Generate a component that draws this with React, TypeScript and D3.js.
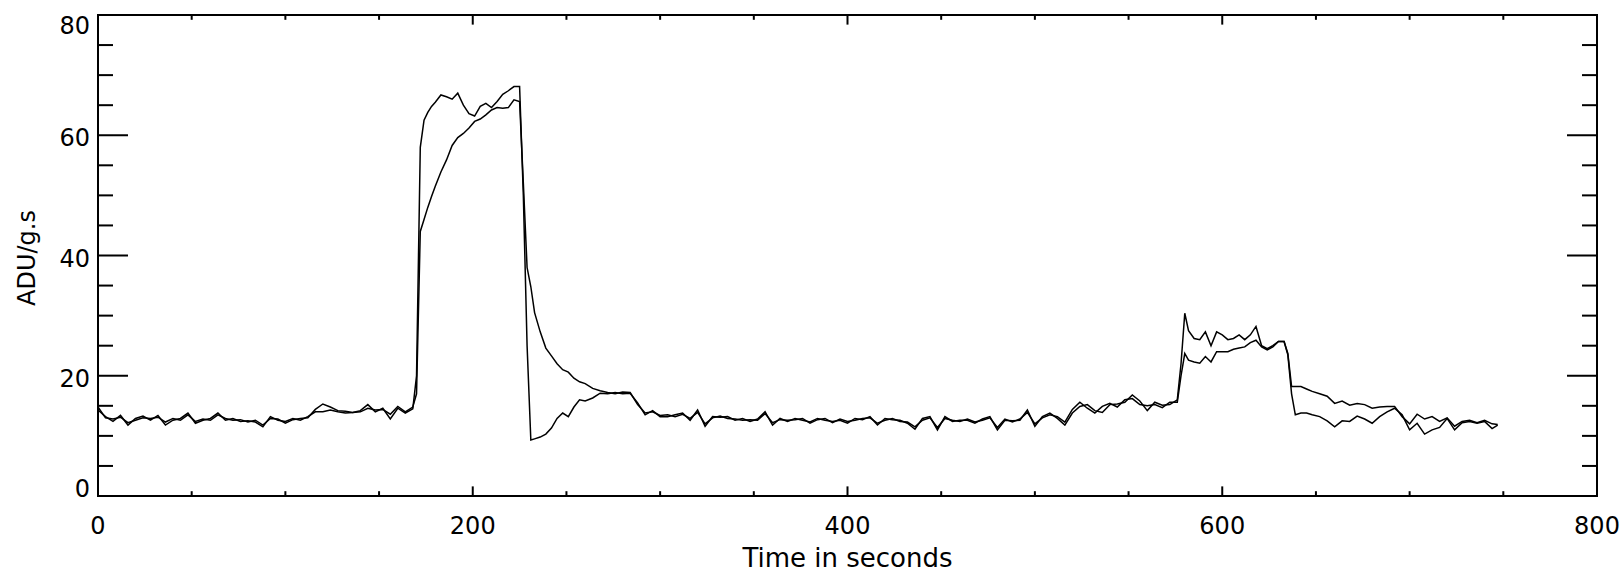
import React, { useEffect, useRef } from "react";
import * as d3 from "d3";

// time stamps (s), shared by both traces
const seconds = [
  0, 4, 8, 12, 16, 20, 24, 28, 32, 36, 40, 44, 48, 52, 56, 60, 64, 68, 72, 76, 80, 84,
  88, 92, 96, 100, 104, 108, 112, 116, 120, 124, 128, 132, 136, 140, 144, 148, 152, 156,
  160, 164, 168,
  170, 172, 174, 176, 178, 180, 183, 186, 189, 192, 195, 198, 201, 204, 207, 210, 213,
  216, 219, 222, 225,
  227, 229, 231, 233, 236, 239, 242, 245, 248, 251, 254, 257, 260, 264, 268, 272, 276,
  280, 284, 288, 292, 296, 300,
  304, 308, 312, 316, 320, 324, 328, 332, 336, 340, 344, 348, 352, 356, 360, 364, 368,
  372, 376, 380, 384, 388, 392, 396, 400, 404, 408, 412, 416, 420, 424, 428, 432, 436,
  440, 444, 448, 452, 456, 460, 464, 468, 472, 476, 480, 484, 488, 492, 496, 500, 504,
  508, 512, 516, 520, 524, 528, 532, 536, 540, 544, 548, 552, 556, 560, 564, 568, 572,
  576, 578, 580, 582, 585, 588, 591, 594, 597, 600, 603, 606, 609, 612, 615, 618, 621,
  624, 627, 630, 633, 635, 637,
  639, 642, 645, 648, 652, 656, 660, 664, 668, 672, 676, 680, 684, 688, 692, 696, 700,
  704, 708, 712, 716, 720, 724, 728, 732, 736, 740, 744, 747,
];

// fast responding trace
const fastTrace = [
  14.3, 13.2, 12.4, 13.4, 11.8, 12.9, 13.3, 12.6, 13.4, 11.8, 12.6, 12.9, 13.8, 12.1, 12.6,
  12.9, 13.8, 12.6, 12.9, 12.4, 12.5, 12.3, 11.5, 13.2, 12.6, 12.4, 12.9, 12.6, 13.2, 14.0,
  14.0, 14.3, 14.0, 13.8, 13.9, 14.2, 15.2, 14.0, 14.6, 12.8, 14.6, 13.8, 14.5,
  20, 58, 62.5, 63.8, 64.8, 65.5, 66.7, 66.4, 66.0, 67.0, 65.0, 63.6, 63.2, 64.8, 65.3,
  64.6, 65.6, 66.8, 67.4, 68.1, 68.1,
  50, 25, 9.3, 9.5, 9.8, 10.3, 11.3, 12.9, 13.8, 13.2, 14.8, 16.0, 15.8, 16.3, 17.1, 17.0,
  17.2, 17.0, 17.1, 15.5, 13.5, 14.2, 13.2,
  13.2, 13.5, 13.8, 12.6, 14.3, 11.6, 13.2, 13.1, 13.2, 12.6, 12.9, 12.4, 12.8, 14.0, 11.8,
  12.9, 12.4, 12.9, 12.6, 12.3, 12.9, 12.6, 12.4, 12.6, 12.1, 12.9, 12.7, 13.2, 11.8, 12.9,
  12.7, 12.6, 12.1, 11.1, 12.9, 13.2, 11.0, 13.2, 12.4, 12.6, 12.6, 12.1, 12.8, 13.2, 11.0,
  12.6, 12.5, 12.6, 14.3, 11.6, 13.2, 13.8, 12.9, 11.8, 13.8, 14.9, 15.2, 14.2, 13.9, 15.2,
  15.3, 15.6, 16.8, 15.8, 14.2, 15.6, 15.1, 15.2,
  16.0, 22, 30.4, 27.5, 26.2, 26.0, 27.3, 25.0, 27.3, 26.8, 26.0, 26.2, 26.8, 26.0, 26.8,
  28.2, 25.0, 24.5, 25.0, 25.7, 25.7, 23.5, 17,
  13.5, 13.8, 13.8, 13.5, 13.2, 12.5, 11.5, 12.5, 12.4, 13.3, 12.8, 12.1, 13.2, 14.0, 14.6,
  13.5, 11.0, 12.1, 10.3, 11.0, 11.4, 12.9, 11.0, 12.2, 12.4, 12.1, 12.4, 11.2, 11.8,
];

// slow responding trace
const slowTrace = [
  14.8, 13.0, 12.8, 13.1, 12.2, 12.6, 13.0, 12.9, 13.1, 12.3, 12.9, 12.6, 13.5, 12.4, 12.8,
  12.6, 13.5, 12.9, 12.6, 12.7, 12.3, 12.6, 11.8, 12.9, 12.8, 12.1, 12.7, 12.9, 13.0, 14.4,
  15.3, 14.8, 14.2, 14.1, 13.9, 14.0, 14.6, 14.3, 14.4, 13.6, 14.9, 14.0, 14.8,
  17, 44, 46, 48, 49.8, 51.5, 53.9, 55.9, 58.3, 59.6, 60.3, 61.2, 62.3, 62.7, 63.4, 64.2,
  64.6, 64.5, 64.6, 65.9, 65.6,
  52, 38, 34.8, 30.5, 27.3, 24.6, 23.3, 22.0, 21.0, 20.6, 19.6, 19.0, 18.7, 17.9, 17.5,
  17.2, 17.0, 17.3, 17.2, 15.2, 13.8, 14.0, 13.4,
  13.5, 13.2, 13.6, 12.9, 13.9, 12.0, 13.0, 13.3, 12.9, 12.8, 12.6, 12.7, 12.6, 13.7, 12.2,
  12.7, 12.6, 12.7, 12.9, 12.1, 12.7, 12.9, 12.2, 12.8, 12.4, 12.6, 12.9, 13.0, 12.1, 12.6,
  12.9, 12.4, 12.3, 11.5, 12.6, 13.0, 11.4, 12.9, 12.6, 12.4, 12.8, 12.3, 12.6, 13.0, 11.4,
  12.8, 12.3, 12.8, 13.9, 12.0, 13.0, 13.5, 13.2, 12.3, 14.4, 15.6, 14.6, 13.8, 14.9, 15.4,
  14.8, 16.0, 16.2, 15.2, 15.0, 15.2, 14.7, 15.6,
  15.6, 20, 23.7, 22.6, 22.3, 22.1, 23.2, 22.3, 24.0, 24.0, 24.0, 24.4, 24.6, 24.8, 25.5,
  25.9, 24.8, 24.3, 24.8, 25.7, 25.7, 23.7, 18.2,
  18.2, 18.2, 17.8, 17.4, 17.0, 16.6, 15.4, 15.8, 15.1, 15.4, 15.2, 14.6, 14.8, 14.9, 14.9,
  13.2, 12.0, 13.6, 12.8, 13.2, 12.4, 13.0, 11.6, 12.4, 12.6, 12.2, 12.6, 12.0, 11.9,
];

const xTickLabels = ["0", "200", "400", "600", "800"];
const yTickLabels = ["0", "20", "40", "60", "80"];
const xTitle = "Time in seconds";
const yTitle = "ADU/g.s";

const canvasWidth = 1624;
const canvasHeight = 572;
const margin = { top: 15, right: 27, bottom: 76, left: 98 };
const font = "'DejaVu Sans', sans-serif";

export default function App() {
  const svgRef = useRef<SVGSVGElement>(null);

  useEffect(() => {
    const svg = d3.select(svgRef.current);
    svg.selectAll("*").remove();

    const w = canvasWidth - margin.left - margin.right;
    const h = canvasHeight - margin.top - margin.bottom;

    const x = d3.scaleLinear().domain([0, 800]).range([0, w]);
    const y = d3.scaleLinear().domain([0, 80]).range([h, 0]);

    const g = svg
      .append("g")
      .attr("transform", `translate(${margin.left},${margin.top})`);

    // traces
    const pts = (vals: number[]) => seconds.map((t, i) => [t, vals[i]] as [number, number]);
    const line = d3
      .line<[number, number]>()
      .x((d) => x(d[0]))
      .y((d) => y(d[1]));

    [fastTrace, slowTrace].forEach((vals) => {
      g.append("path")
        .attr("d", line(pts(vals)))
        .attr("fill", "none")
        .attr("stroke", "#000")
        .attr("stroke-width", 1.5)
        .attr("stroke-linejoin", "miter");
    });

    // frame
    g.append("rect")
      .attr("width", w)
      .attr("height", h)
      .attr("fill", "none")
      .attr("stroke", "#000")
      .attr("stroke-width", 2);

    const yLong = w * 0.02;
    const xLong = h * 0.02;
    const majorX = xTickLabels.map(Number);
    const majorY = yTickLabels.map(Number);

    // y ticks on both sides, pointing inward
    y.ticks(16).forEach((v) => {
      const len = majorY.includes(v) ? yLong : yLong / 2;
      const yy = y(v);
      g.append("line").attr("x1", 0).attr("x2", len).attr("y1", yy).attr("y2", yy)
        .attr("stroke", "#000").attr("stroke-width", 2);
      g.append("line").attr("x1", w).attr("x2", w - len).attr("y1", yy).attr("y2", yy)
        .attr("stroke", "#000").attr("stroke-width", 2);
    });

    // x ticks on bottom and top
    x.ticks(16).forEach((v) => {
      const len = majorX.includes(v) ? xLong : xLong / 2;
      const xx = x(v);
      g.append("line").attr("x1", xx).attr("x2", xx).attr("y1", h).attr("y2", h - len)
        .attr("stroke", "#000").attr("stroke-width", 2);
      g.append("line").attr("x1", xx).attr("x2", xx).attr("y1", 0).attr("y2", len)
        .attr("stroke", "#000").attr("stroke-width", 2);
    });

    // tick labels
    xTickLabels.forEach((lab) => {
      g.append("text")
        .attr("x", x(Number(lab)))
        .attr("y", h + 38)
        .attr("text-anchor", "middle")
        .attr("font-family", font)
        .attr("font-size", 24)
        .text(lab);
    });

    yTickLabels.forEach((lab) => {
      const cy = Math.min(Math.max(y(Number(lab)) + 2, 10), h - 8);
      g.append("text")
        .attr("x", -8)
        .attr("y", cy + 9)
        .attr("text-anchor", "end")
        .attr("font-family", font)
        .attr("font-size", 24)
        .text(lab);
    });

    // titles
    g.append("text")
      .attr("x", w / 2)
      .attr("y", h + 71)
      .attr("text-anchor", "middle")
      .attr("font-family", font)
      .attr("font-size", 26)
      .text(xTitle);

    g.append("text")
      .attr("transform", `translate(${35 - margin.left},${258 - margin.top}) rotate(-90)`)
      .attr("text-anchor", "middle")
      .attr("font-family", font)
      .attr("font-size", 24)
      .text(yTitle);
  }, []);

  return (
    <svg
      ref={svgRef}
      width={canvasWidth}
      height={canvasHeight}
      style={{ position: "absolute", left: 0, top: 0, background: "#fff" }}
    />
  );
}
